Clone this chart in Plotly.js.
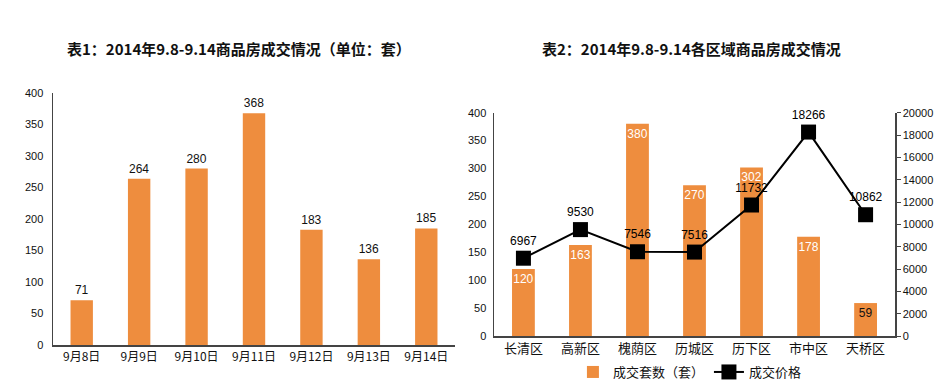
<!DOCTYPE html>
<html><head><meta charset="utf-8">
<script src="https://cdn.plot.ly/plotly-3.0.1.min.js"></script>
<style>html,body{margin:0;padding:0;background:#fff}#chart{width:949px;height:387px}</style>
</head><body><div id="chart"></div>
<script>
// Chart 1 data
const dates = ['9月8日','9月9日','9月10日','9月11日','9月12日','9月13日','9月14日'];
const dailySales = [71, 264, 280, 368, 183, 136, 185];
// Chart 2 data
const districts = ['长清区','高新区','槐荫区','历城区','历下区','市中区','天桥区'];
const districtSales = [120, 163, 380, 270, 302, 178, 59];
const districtPrice = [6967, 9530, 7546, 7516, 11732, 18266, 10862];
const title1 = '表1：2014年9.8-9.14商品房成交情况（单位：套）';
const title2 = '表2：2014年9.8-9.14各区域商品房成交情况';
const seriesNames = ['成交套数（套）', '成交价格'];

const W = 949, H = 387;
const px = v => v / W, py = v => 1 - v / H;
const orange = '#EE8D3E';
const cjk = '"Noto Sans CJK SC", "Liberation Sans", sans-serif';
const num = '"Liberation Sans", Arial, sans-serif';

const traces = [
  {type:'bar', x: dates, y: dailySales, xaxis:'x', yaxis:'y', width:0.39,
   marker:{color: orange}, text: dailySales.map(String), textposition:'outside', textangle:0,
   cliponaxis:false, textfont:{family:num, size:12, color:'#111'}, showlegend:false, hoverinfo:'x+y'},
  {type:'bar', x: districts, y: districtSales, xaxis:'x2', yaxis:'y2', width:0.4,
   name: seriesNames[0], marker:{color: orange}, text: districtSales.map(String),
   textposition:'inside', insidetextanchor:'end', textangle:0, constraintext:'none',
   textfont:{family:num, size:12, color: districtSales.map(v => v < 100 ? '#111' : '#fff')}},
  {type:'scatter', mode:'lines+markers+text', x: districts, y: districtPrice, xaxis:'x2', yaxis:'y3',
   name: seriesNames[1], line:{color:'#000', width:2}, marker:{symbol:'square', size:15, color:'#000'},
   text: districtPrice.map(String), textposition:'top center', cliponaxis:false,
   textfont:{family:num, size:12, color:'#000'}}
];

const layout = {
  width: W, height: H, margin:{l:0,r:0,t:0,b:0},
  paper_bgcolor:'#fff', plot_bgcolor:'#fff',
  font:{family: cjk, size:12, color:'#111'},
  showlegend: true,
  legend:{orientation:'h', x:0.727, xanchor:'center', y:py(372), yanchor:'middle',
          font:{family:cjk, size:13, color:'#111'}, itemwidth:30, traceorder:'normal'},
  xaxis:{domain:[px(53), px(455)], type:'category', showline:true, linecolor:'#444', linewidth:1.5,
         ticks:'', tickfont:{family:cjk, size:12, color:'#111'}, fixedrange:true},
  yaxis:{domain:[py(345), py(93)], range:[0,400], dtick:50, showline:true, linecolor:'#444', linewidth:1.5,
         showgrid:false, zeroline:false, ticks:'', ticklabelstandoff:6, tickfont:{family:num, size:11, color:'#111'}},
  xaxis2:{domain:[px(494), px(895)], type:'category', anchor:'y2', showline:true, linecolor:'#444', linewidth:1.5,
          ticks:'', tickfont:{family:cjk, size:13, color:'#111'}},
  yaxis2:{domain:[py(336), py(112.7)], anchor:'x2', range:[0,400], dtick:50, showline:true, linecolor:'#444', linewidth:1.5,
          showgrid:false, zeroline:false, ticks:'', ticklabelstandoff:4, tickfont:{family:num, size:11, color:'#111'}},
  yaxis3:{overlaying:'y2', side:'right', anchor:'x2', range:[0,20000], dtick:2000, tickformat:'d', showline:true, linecolor:'#444', linewidth:1.5,
          showgrid:false, zeroline:false, ticks:'outside', ticklen:4, tickcolor:'#444', tickfont:{family:num, size:11, color:'#111'}},
  annotations:[
    {text:'<b>'+title1+'</b>', xref:'paper', yref:'paper', x:px(239), y:py(48), xanchor:'center', yanchor:'middle',
     showarrow:false, font:{family:cjk, size:15, color:'#111'}},
    {text:'<b>'+title2+'</b>', xref:'paper', yref:'paper', x:px(691), y:py(48), xanchor:'center', yanchor:'middle',
     showarrow:false, font:{family:cjk, size:15, color:'#111'}}
  ]
};
Plotly.newPlot('chart', traces, layout, {displayModeBar:false, staticPlot:true});
</script></body></html>
